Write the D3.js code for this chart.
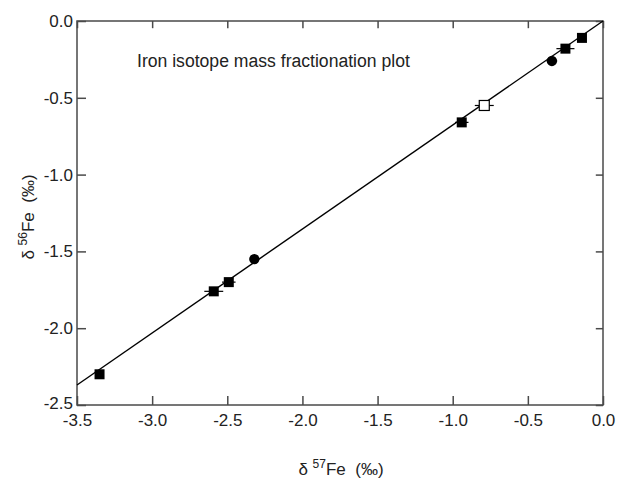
<!DOCTYPE html>
<html>
<head>
<meta charset="utf-8">
<script src="https://cdn.jsdelivr.net/npm/d3@7/dist/d3.min.js"></script>
<style>
  html, body { margin: 0; padding: 0; background: #fff; }
  svg { display: block; }
  text { font-family: "Liberation Sans", Arial, sans-serif; fill: #222; white-space: pre; }
</style>
</head>
<body>
<svg id="chart" width="618" height="481"></svg>
<script>
// ---- data ----
const xTicks = [-3.5, -3.0, -2.5, -2.0, -1.5, -1.0, -0.5, 0.0];
const yTicks = [0.0, -0.5, -1.0, -1.5, -2.0, -2.5];
const d57 = [-3.35, -2.59, -2.49, -2.32, -0.94, -0.79, -0.34, -0.25, -0.14];
const d56 = [-2.30, -1.76, -1.70, -1.55, -0.66, -0.55, -0.26, -0.18, -0.11];
const markerType = ["square", "square", "square", "circle", "square", "open", "circle", "square", "square"];
const err57 = [0, 0.063, 0.045, 0, 0.045, 0.063, 0.035, 0.06, 0];
const fitX = [-3.5, 0.0];
const fitY = [-2.37, 0.0];
const titleText = "Iron isotope mass fractionation plot";

// ---- layout ----
const svg = d3.select("#chart");
const L = 77, R = 603, T = 21, B = 405;
const x = d3.scaleLinear().domain([-3.5, 0]).range([L, R]);
const y = d3.scaleLinear().domain([-2.5, 0]).range([B, T]);
const fmt = d => d.toFixed(1).replace("\u2212", "-");
const axisColor = "#4a4a4a";
const tickLen = 9;

// frame
svg.append("rect").attr("x", L).attr("y", T).attr("width", R - L).attr("height", B - T)
  .attr("fill", "none").attr("stroke", axisColor).attr("stroke-width", 1.5);

// bottom axis (inward ticks)
const xb = svg.append("g").attr("transform", `translate(0,${B})`)
  .call(d3.axisBottom(x).tickValues(xTicks).tickSize(-tickLen).tickFormat(fmt));
// top axis
const xt = svg.append("g").attr("transform", `translate(0,${T})`)
  .call(d3.axisTop(x).tickValues(xTicks).tickSize(-tickLen * 0.8).tickFormat(""));
// left axis
const yl = svg.append("g").attr("transform", `translate(${L},0)`)
  .call(d3.axisLeft(y).tickValues(yTicks).tickSize(-tickLen).tickPadding(4).tickFormat(fmt));
// right axis
const yr = svg.append("g").attr("transform", `translate(${R},0)`)
  .call(d3.axisRight(y).tickValues(yTicks).tickSize(-tickLen * 0.8).tickFormat(""));

[xb, xt, yl, yr].forEach(g => {
  g.select(".domain").remove();
  g.selectAll(".tick line").attr("stroke", axisColor).attr("stroke-width", 1.5);
  g.selectAll(".tick text").attr("font-size", 17).attr("fill", "#222")
    .attr("font-family", "'Liberation Sans', Arial, sans-serif");
});
// x labels: baseline near y=425
xb.selectAll(".tick text").attr("dy", "0.71em").attr("y", 9);
// -2.5 label raised slightly
yl.selectAll(".tick text").filter(d => d === -2.5).attr("dy", "0.2em");

// fit line
const line = d3.line().x(d => x(d[0])).y(d => y(d[1]));
svg.append("path").datum(fitX.map((v, i) => [v, fitY[i]]))
  .attr("d", line).attr("stroke", "#000").attr("stroke-width", 1.4).attr("fill", "none");

// data
const pts = d57.map((v, i) => ({ x: v, y: d56[i], t: markerType[i], e: err57[i] }));
// error bars
svg.append("g").selectAll("line").data(pts.filter(p => p.e > 0)).join("line")
  .attr("x1", p => x(p.x - p.e)).attr("x2", p => x(p.x + p.e))
  .attr("y1", p => y(p.y)).attr("y2", p => y(p.y))
  .attr("stroke", "#000").attr("stroke-width", 1.2);

const S = 10;
const mg = svg.append("g");
pts.forEach(p => {
  if (p.t === "circle") {
    mg.append("circle").attr("cx", x(p.x)).attr("cy", y(p.y)).attr("r", 5.2).attr("fill", "#000");
  } else {
    mg.append("rect").attr("x", x(p.x) - S / 2).attr("y", y(p.y) - S / 2)
      .attr("width", S).attr("height", S)
      .attr("fill", p.t === "open" ? "#fff" : "#000")
      .attr("stroke", "#000").attr("stroke-width", p.t === "open" ? 1.2 : 0);
  }
});

// in-plot title
svg.append("text").attr("x", 137).attr("y", 67).attr("font-size", 17.6).attr("fill", "#222")
  .text(titleText);

// x axis title
const xtitle = svg.append("text").attr("x", 341).attr("y", 475).attr("text-anchor", "middle")
  .attr("font-size", 17);
xtitle.append("tspan").text("δ ");
xtitle.append("tspan").attr("font-size", 12).attr("dy", -7).text("57");
xtitle.append("tspan").attr("dy", 7).text("Fe  (‰)");

// y axis title
const ytitle = svg.append("text").attr("transform", "translate(34,217) rotate(-90)")
  .attr("text-anchor", "middle").attr("font-size", 17);
ytitle.append("tspan").text("δ ");
ytitle.append("tspan").attr("font-size", 12).attr("dy", -7).text("56");
ytitle.append("tspan").attr("dy", 7).text("Fe  (‰)");
</script>
</body>
</html>
